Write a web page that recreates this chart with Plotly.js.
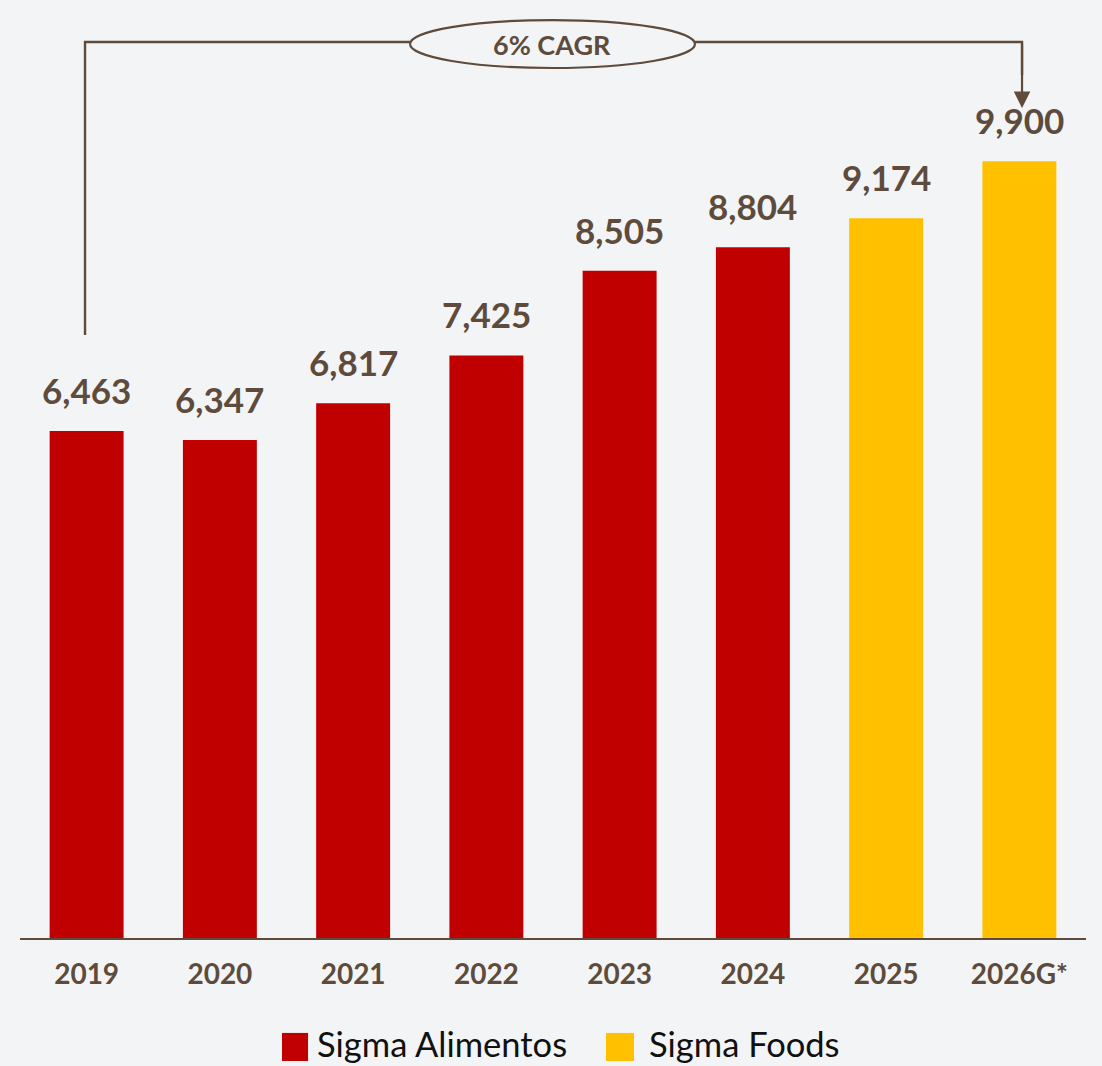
<!DOCTYPE html>
<html>
<head>
<meta charset="utf-8">
<script src="https://cdn.plot.ly/plotly-3.0.1.min.js"></script>
<style>
  html, body { margin: 0; padding: 0; background: #f2f4f6; }
  #chart { width: 1102px; height: 1066px; }
</style>
</head>
<body>
<div id="chart"></div>
<script>
// ---- data ----
const years = ['2019', '2020', '2021', '2022', '2023', '2024', '2025', '2026G*'];
const revenue = [6463, 6347, 6817, 7425, 8505, 8804, 9174, 9900];
const seriesNames = ['Sigma Alimentos', 'Sigma Foods'];
const seriesOf = [0, 0, 0, 0, 0, 0, 1, 1];
const cagrLabel = '6% CAGR';

// ---- styles ----
const seriesColors = ['#c00000', '#ffc000'];
const brown = '#5e4b3c';
const bg = '#f2f4f6';
const font = 'Lato, "Open Sans", sans-serif';

const traces = seriesNames.map((name, s) => {
  const xs = [], ys = [];
  years.forEach((y, i) => { if (seriesOf[i] === s) { xs.push(y); ys.push(revenue[i]); } });
  return {
    type: 'bar', name: name, x: xs, y: ys,
    marker: { color: seriesColors[s] },
    showlegend: false, hoverinfo: 'x+y'
  };
});

const fmt = v => v.toLocaleString('en-US');

// value labels (x given as category index on the category axis)
const annotations = years.map((y, i) => ({
  x: i, y: revenue[i], xref: 'x', yref: 'y',
  text: '<b>' + fmt(revenue[i]) + '</b>',
  showarrow: false, yanchor: 'bottom', yshift: 18,
  font: { family: font, size: 35, color: brown }
}));

// CAGR label
annotations.push({
  x: 0.4995, y: 1.0359, xref: 'paper', yref: 'paper',
  text: '<b>' + cagrLabel + '</b>', showarrow: false,
  xanchor: 'center', yanchor: 'middle',
  font: { family: font, size: 27, color: brown }
});
// arrow down to last bar
annotations.push({
  x: 0.94, y: 0.9618, xref: 'paper', yref: 'paper',
  ax: 0, ay: -66, axref: 'pixel', ayref: 'pixel',
  text: '', showarrow: true, arrowhead: 2, arrowsize: 1.5, arrowwidth: 2.2,
  arrowcolor: brown
});

// manual legend
const legendItems = [
  { sx0: 0.2458, sx1: 0.2702, tx: 0.2777 },
  { sx0: 0.5497, sx1: 0.5760, tx: 0.5891 }
];
const shapes = [];
legendItems.forEach((it, s) => {
  shapes.push({
    type: 'rect', xref: 'paper', yref: 'paper',
    x0: it.sx0, x1: it.sx1, y0: -0.1425, y1: -0.1100,
    fillcolor: seriesColors[s], line: { width: 0 }
  });
  annotations.push({
    x: it.tx, y: -0.1217, xref: 'paper', yref: 'paper',
    text: seriesNames[s], showarrow: false, xanchor: 'left', yanchor: 'middle',
    borderpad: 0,
    font: { family: font, size: 34.5, color: '#111111' }
  });
});

// bracket
shapes.push({
  type: 'path', xref: 'paper', yref: 'paper',
  path: 'M 0.061 0.6987 L 0.061 1.0382 L 0.3659 1.0382',
  line: { color: brown, width: 2.4 }
});
shapes.push({
  type: 'path', xref: 'paper', yref: 'paper',
  path: 'M 0.6332 1.0382 L 0.94 1.0382 L 0.94 1.0',
  line: { color: brown, width: 2.4 }
});
shapes.push({
  type: 'circle', xref: 'paper', yref: 'paper',
  x0: 0.3659, x1: 0.6332, y0: 1.0081, y1: 1.0637,
  fillcolor: bg, line: { color: brown, width: 2.2 }
});

const layout = {
  width: 1102, height: 1066,
  margin: { l: 20, r: 16, t: 75, b: 128 },
  paper_bgcolor: bg, plot_bgcolor: bg,
  barmode: 'overlay', bargap: 0.445,
  showlegend: false,
  xaxis: {
    type: 'category', categoryorder: 'array', categoryarray: years,
    range: [-0.5, years.length - 0.5], autorange: false,
    showline: true, linecolor: brown, linewidth: 2, ticks: '',
    showgrid: false, zeroline: false,
    tickfont: { family: font, size: 28, color: brown, weight: 'bold' },
    ticklabelstandoff: 10
  },
  yaxis: {
    range: [0, 11000], autorange: false, visible: false, showgrid: false, zeroline: false
  },
  annotations: annotations,
  shapes: shapes,
  font: { family: font }
};

Plotly.newPlot('chart', traces, layout, { displayModeBar: false, staticPlot: true });
</script>
</body>
</html>
